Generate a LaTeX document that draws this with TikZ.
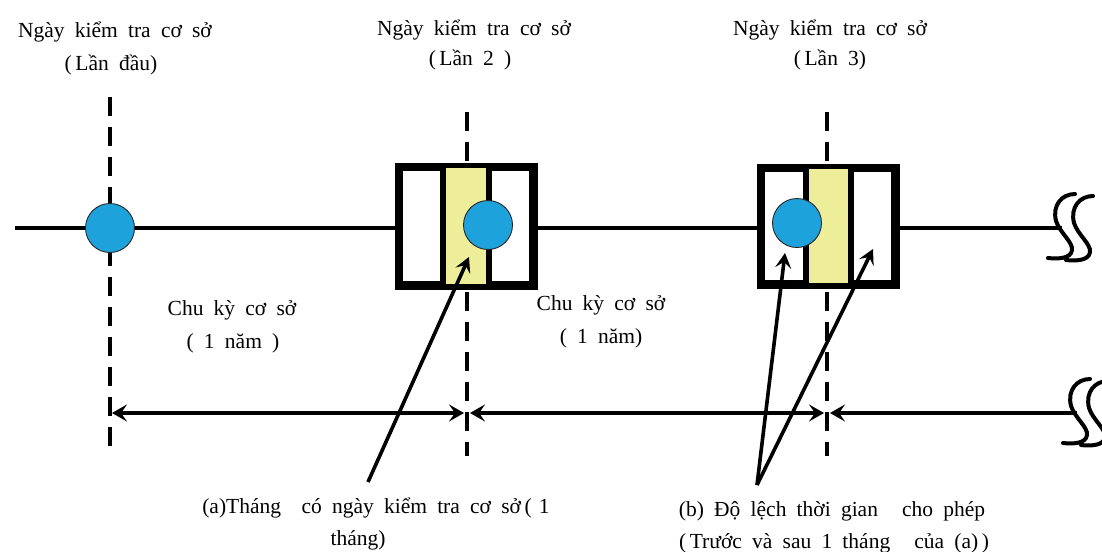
\documentclass[tikz,border=0pt]{standalone}
\usepackage{fontspec}
\setmainfont{Liberation Serif}[WordSpace=1.9]
\usetikzlibrary{arrows.meta}
\definecolor{dotblue}{HTML}{1EA2DC}
\definecolor{paleyellow}{HTML}{EEEE9A}
\tikzset{sptip/.tip={Stealth[length=15pt,width=17pt,inset=6pt]}}
\begin{document}
\begin{tikzpicture}[x=1pt,y=-1pt,
  lbl/.style={font=\fontsize{21.5}{25}\selectfont, inner sep=0pt, align=center},
  axis/.style={line width=3.6pt},
  guide/.style={line width=3.6pt, dash pattern=on 19pt off 11pt},
  frame/.style={draw, line width=5.5pt, fill=white, inner sep=0pt},
  divider/.style={line width=5.5pt},
  dot/.style={circle, fill=dotblue, draw=black!85, line width=0.9pt, minimum size=49pt, inner sep=0pt},
  span/.style={line width=3.6pt, {sptip}-{sptip}},
  lspan/.style={line width=3.6pt, {sptip}-},
  pointer/.style={line width=3.6pt, -{Stealth[length=15pt,width=16pt,inset=6pt]}},
  brk/.pic={\draw[line width=4pt, line cap=round]
     (13,-33) .. controls (0,-33) and (-10,-22) .. (-6,-6)
     .. controls (-2,6) and (11,15) .. (10,23)
     .. controls (9,32) and (-5,32) .. (-14,31);}
]
\clip (0,0) rectangle (1102,551);
\fill[white] (0,0) rectangle (1102,551);

% headings above each inspection date
\node[lbl] (h1) at (115,32) {Ngày kiểm tra cơ sở};
\node[lbl] (h1b) at (111,65) {(\,Lần đầu)};
\node[lbl] (h2) at (474,30) {Ngày kiểm tra cơ sở};
\node[lbl] (h2b) at (470,60) {(\,Lần 2 )};
\node[lbl] (h3) at (830,30) {Ngày kiểm tra cơ sở};
\node[lbl] (h3b) at (830,60) {(\,Lần 3)};

% dashed guide lines through each date
\coordinate (g1t) at (110,97);  \coordinate (g1b) at (110,452);
\coordinate (g2t) at (467,112); \coordinate (g2b) at (467,456);
\coordinate (g3t) at (827,112); \coordinate (g3b) at (827,456);
\draw[guide] (g1t) -- (g1b);
\draw[guide] (g2t) -- (g2b);
\draw[guide] (g3t) -- (g3b);

% time axis
\coordinate (ax0) at (15,228);
\coordinate (ax1) at (1062,228);
\draw[axis] (ax0) -- (ax1);
\pic at (1062,227) {brk};
\pic at (1080,229) {brk};

% inspection-month boxes
\node[frame, minimum width=132pt, minimum height=116pt] (box2) at (466,226) {};
\fill[paleyellow] (443,168) rectangle (489,284);
\draw[divider] (443,168) -- (443,284) (489,168) -- (489,284);
\draw[line width=5.5pt] (box2.north west) rectangle (box2.south east);

\node[frame, minimum width=132pt, minimum height=114pt] (box3) at (828,226) {};
\fill[paleyellow] (806,169) rectangle (851,283);
\draw[divider] (806,169) -- (806,283) (851,169) -- (851,283);
\draw[line width=5.5pt] (box3.north west) rectangle (box3.south east);

% inspection dates
\node[dot] (d1) at (110,228) {};
\node[dot] (d2) at (488,225) {};
\node[dot] (d3) at (797,223) {};

% cycle labels
\node[lbl] (c1) at (232,310) {Chu kỳ cơ sở};
\node[lbl] (c1b) at (233,343) {( 1 năm )};
\node[lbl] (c2) at (601,305) {Chu kỳ cơ sở};
\node[lbl] (c2b) at (601,338) {( 1 năm)};

% cycle spans
\coordinate (s1) at (110,413);
\coordinate (s2) at (467,413);
\coordinate (s3) at (827,413);
\coordinate (s4) at (1077,413);
\draw[span] ([xshift=2pt]s1) -- ([xshift=-3pt]s2);
\draw[span] ([xshift=3pt]s2) -- ([xshift=-3pt]s3);
\draw[lspan] ([xshift=3pt]s3) -- (s4);
\pic at (1077,412) {brk};
\pic at (1095,414) {brk};

% bottom notes
\node[lbl] (na) at (376,508) {(a)Tháng\ \ có ngày kiểm tra cơ sở\,(\,\,1};
\node[lbl] (na2) at (358,540) {tháng)};
\node[lbl] (nb) at (832,511) {(b) Độ lệch thời gian\ \, cho phép};
\node[lbl] (nb2) at (834,543) {(\,Trước và sau 1 tháng\ \, của (a)\,)};

% pointers from notes to boxes
\coordinate (pa) at (368,482);
\coordinate (pa1) at (469,257);
\coordinate (pb) at (757,485);
\coordinate (pb1) at (785,253);
\coordinate (pb2) at (873,249);
\draw[pointer] (pa) -- (pa1);
\draw[pointer] (pb) -- (pb1);
\draw[pointer] (pb) -- (pb2);
\end{tikzpicture}
\end{document}
